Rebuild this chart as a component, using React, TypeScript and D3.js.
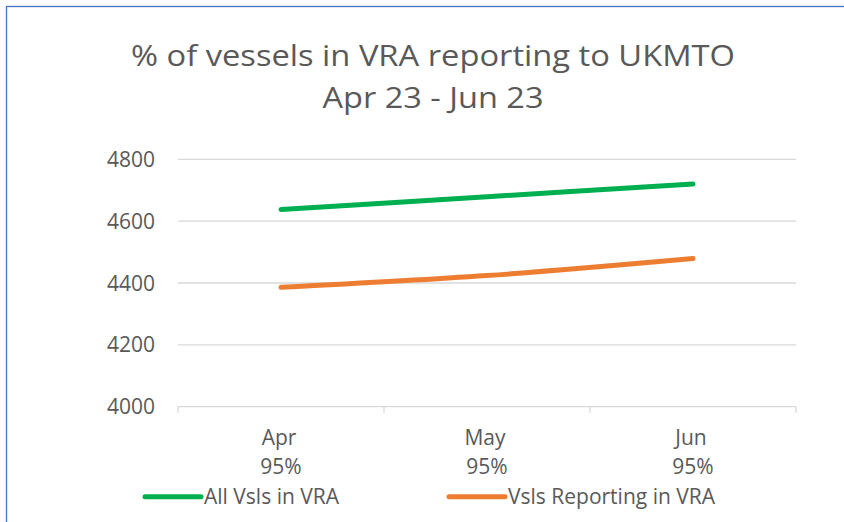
import React from "react";
import * as d3 from "d3";

const categories = ["Apr", "May", "Jun"];
const pctLabels = ["95%", "95%", "95%"];
const allVessels = [4638, 4679, 4720];
const reportingVessels = [4386, 4424, 4479];
const yTicks = [4000, 4200, 4400, 4600, 4800];
const seriesNames = ["All Vsls in VRA", "Vsls Reporting in VRA"];
const seriesColors = ["#00B050", "#ED7D31"];

const W = 844;
const H = 522;
const FONT = "'Open Sans', 'Noto Sans', sans-serif";

export default function App() {
  const x = d3.scaleBand<string>().domain(categories).range([178, 796]);
  const y = d3.scaleLinear().domain([4000, 4800]).range([406.7, 159.3]);
  const line = d3
    .line<number>()
    .x((_, i) => (x(categories[i]) as number) + x.bandwidth() / 2)
    .y((d) => y(d))
    .curve(d3.curveCatmullRom.alpha(0.5));
  const series = [allVessels, reportingVessels];
  const tickXs = [...categories.map((c) => x(c) as number), 796];
  const legendX = [145, 449];
  const textColor = "#595959";

  return (
    <svg
      width={W}
      height={H}
      style={{ position: "absolute", left: 0, top: 0, background: "#fff" }}
      fontFamily={FONT}
    >
      <rect x={0} y={0} width={W} height={H} fill="#fff" />
      <rect x={6.5} y={6.5} width={1000} height={1000} fill="none" stroke="#4472C4" strokeWidth={1.3} />
      <text x={433} y={66} textAnchor="middle" fontSize={29} fill={textColor} textLength={604} lengthAdjust="spacingAndGlyphs">
        % of vessels in VRA reporting to UKMTO
      </text>
      <text x={433} y={108} textAnchor="middle" fontSize={29} fill={textColor} textLength={221} lengthAdjust="spacingAndGlyphs">
        Apr 23 - Jun 23
      </text>
      {yTicks.map((t) => (
        <g key={t}>
          <line x1={178} x2={796} y1={y(t)} y2={y(t)} stroke="#D9D9D9" strokeWidth={1.3} />
          <text x={155} y={y(t) + 7.5} textAnchor="end" fontSize={21} fill={textColor}>
            {t}
          </text>
        </g>
      ))}
      {tickXs.map((tx, i) => (
        <line key={i} x1={tx} x2={tx} y1={y(4000)} y2={y(4000) + 6} stroke="#D9D9D9" strokeWidth={1.3} />
      ))}
      {categories.map((c, i) => {
        const cx = (x(c) as number) + x.bandwidth() / 2;
        return (
          <g key={c}>
            <text x={cx - 2} y={445} textAnchor="middle" fontSize={21} fill={textColor}>
              {c}
            </text>
            <text x={cx} y={474} textAnchor="middle" fontSize={21} fill={textColor}>
              {pctLabels[i]}
            </text>
          </g>
        );
      })}
      {series.map((s, i) => (
        <path
          key={i}
          d={line(s) || ""}
          fill="none"
          stroke={seriesColors[i]}
          strokeWidth={5}
          strokeLinecap="round"
        />
      ))}
      {seriesNames.map((n, i) => (
        <g key={n}>
          <line
            x1={legendX[i]}
            x2={legendX[i] + 56}
            y1={496.7}
            y2={496.7}
            stroke={seriesColors[i]}
            strokeWidth={5}
            strokeLinecap="round"
          />
          <text x={legendX[i] + 59} y={504} fontSize={21} fill={textColor}>
            {n}
          </text>
        </g>
      ))}
    </svg>
  );
}
